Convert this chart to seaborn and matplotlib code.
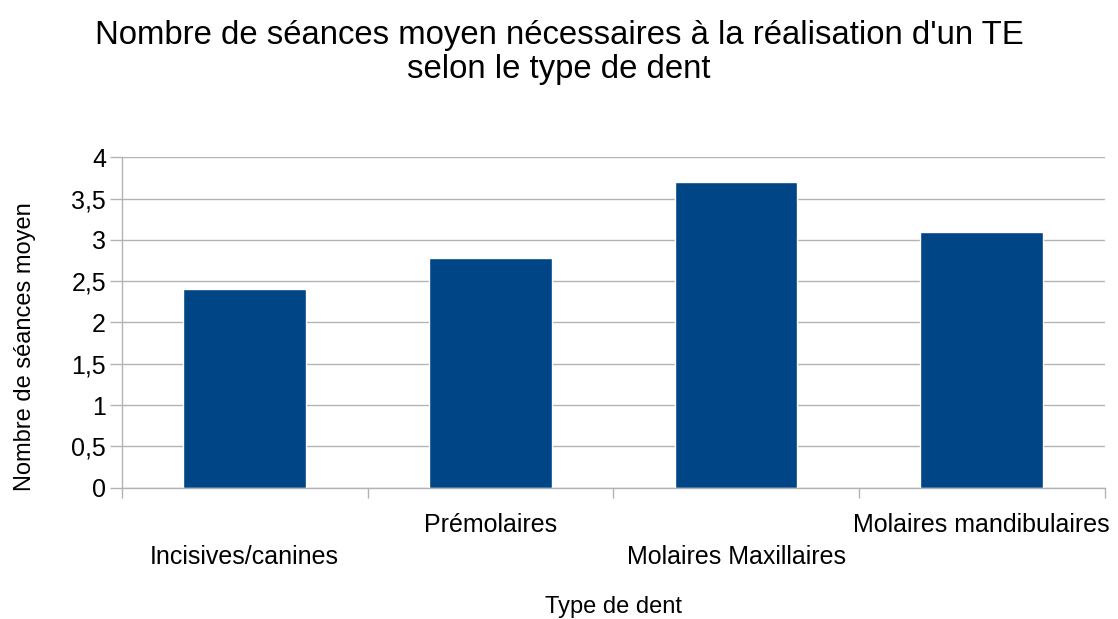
import pandas as pd
import matplotlib
matplotlib.use("Agg")
import matplotlib.pyplot as plt
import seaborn as sns
from matplotlib.ticker import FixedLocator

# Data
categories = ["Incisives/canines", "Prémolaires", "Molaires Maxillaires", "Molaires mandibulaires"]
values = [2.4, 2.78, 3.7, 3.1]
y_ticks = [0, 0.5, 1, 1.5, 2, 2.5, 3, 3.5, 4]
y_tick_labels = ["0", "0,5", "1", "1,5", "2", "2,5", "3", "3,5", "4"]

df = pd.DataFrame({"type": categories, "seances": values})

sns.set_theme(style="white")
plt.rcParams["font.family"] = ["Liberation Sans", "DejaVu Sans"]
plt.rcParams["text.color"] = "black"
plt.rcParams["axes.labelcolor"] = "black"
plt.rcParams["xtick.labelcolor"] = "black"
plt.rcParams["ytick.labelcolor"] = "black"

fig = plt.figure(figsize=(11.18, 6.19), dpi=100)
ax = fig.add_axes([0.109, 0.212, 0.879, 0.534])

sns.barplot(data=df, x="type", y="seances", color="#004586", saturation=1,
            width=0.5, ax=ax)

ax.set_ylim(0, 4)
ax.set_xlim(-0.5, len(categories) - 0.5)
ax.set_yticks(y_ticks)
ax.set_yticklabels(y_tick_labels, fontsize=18)
ax.yaxis.grid(True, color="#b3b3b3", linewidth=1)
ax.set_axisbelow(True)

# staggered category labels
labels = [("\n" + c) if i % 2 == 0 else c for i, c in enumerate(categories)]
ax.set_xticks(range(len(categories)))
ax.set_xticklabels(labels, fontsize=18, linespacing=1.45)
ax.xaxis.set_minor_locator(FixedLocator([i - 0.5 for i in range(len(categories) + 1)]))
ax.tick_params(axis="x", which="major", length=0, pad=18)
ax.tick_params(axis="x", which="minor", bottom=True, length=7, color="#b3b3b3", width=1)
ax.tick_params(axis="y", left=True, length=8.5, color="#b3b3b3", width=1, pad=3)

for s in ["top", "right"]:
    ax.spines[s].set_visible(False)
for s in ["left", "bottom"]:
    ax.spines[s].set_color("#b3b3b3")
    ax.spines[s].set_linewidth(1)

ax.set_xlabel("Type de dent", fontsize=17, labelpad=19)
ax.set_ylabel("Nombre de séances moyen", fontsize=17)
ax.yaxis.set_label_coords(-0.087, 0.426)

fig.suptitle("Nombre de séances moyen nécessaires à la réalisation d'un TE\nselon le type de dent",
             fontsize=23.7, y=0.968, linespacing=1.15)

fig.savefig("out.png", dpi=100)
